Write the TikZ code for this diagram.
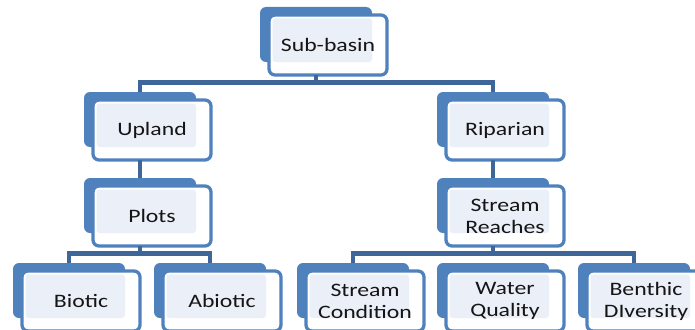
\documentclass[tikz,border=0pt]{standalone}
\usepackage{fontspec}
\setmainfont{Carlito}[FakeStretch=1.25]
\usetikzlibrary{calc}
\definecolor{boxblue}{HTML}{4F81BD}
\definecolor{connblue}{HTML}{3E6699}
\definecolor{lightfill}{HTML}{EAEFF8}
\definecolor{txt}{HTML}{151515}
\tikzset{
  backbox/.style={fill=boxblue, rounded corners=6pt, minimum width=112pt, minimum height=55pt, inner sep=0pt, outer sep=0pt},
  frontbox/.style={fill=white, draw=boxblue, line width=3.3pt, rounded corners=6pt, minimum width=118pt, minimum height=60pt, inner sep=0pt, outer sep=0pt},
  lfill/.style={fill=lightfill, rounded corners=3pt},
  lbl/.style={text=txt, font=\fontsize{19}{22}\selectfont, align=center, inner sep=0pt},
  conn/.style={draw=connblue, line width=4.5pt, line join=miter}
}
\newcommand\obox[4]{%
  \node[backbox, anchor=north west] (#1b) at (#2,#3) {};
  \node[frontbox, anchor=north west] (#1) at ($(#2,#3)+(9,8)$) {};
  \fill[lfill] ($(#1.north west)+(3.5,3.5)$) rectangle (#1b.south east);
  \node[lbl] (#1t) at (#1.center) {#4};
}
\begin{document}
\begin{tikzpicture}[x=1pt,y=-1pt]
\useasboundingbox (0,0) rectangle (695,329);
\clip (0,0) rectangle (695,329);
\coordinate (bar1) at (0,82.5);
\coordinate (bar2) at (0,253.5);
% boxes
\obox{sub}{260}{7}{Sub-basin}
\obox{upl}{84}{92}{Upland}
\obox{rip}{437}{92}{Riparian}
\obox{plo}{84}{178}{Plots}
\obox{str}{437}{178}{Stream\\Reaches}
\obox{bio}{13}{263}{Biotic}
\obox{abi}{154}{263}{Abiotic}
\obox{scn}{297}{263}{Stream\\Condition}
\obox{wat}{437}{263}{Water\\Quality}
\obox{ben}{578}{263}{Benthic\\DIversity}
% connectors
\draw[conn] (subb.south |- sub.south) -- (subb.south |- bar1);
\draw[conn] (uplb.north) -- (uplb.north |- bar1) -- (ripb.north |- bar1) -- (ripb.north);
\draw[conn] (uplb.south |- upl.south) -- (plob.north);
\draw[conn] (ripb.south |- rip.south) -- (strb.north);
\draw[conn] (plob.south |- plo.south) -- (plob.south |- bar2);
\draw[conn] (biob.north) -- (biob.north |- bar2) -- (abib.north |- bar2) -- (abib.north);
\draw[conn] (strb.south |- str.south) -- (strb.south |- bar2);
\draw[conn] (scnb.north) -- (scnb.north |- bar2) -- (benb.north |- bar2) -- (benb.north);
\end{tikzpicture}
\end{document}
